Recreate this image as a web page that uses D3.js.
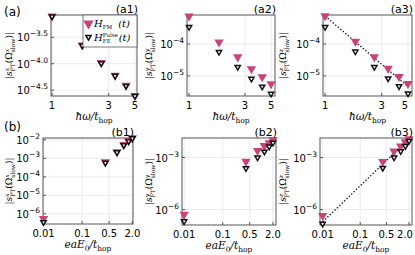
<!DOCTYPE html>
<html>
<head>
<meta charset="utf-8">
<script src="https://cdn.jsdelivr.net/npm/d3@7"></script>
<style>
  body { margin: 0; background: #fff; }
  svg { display: block; }
</style>
</head>
<body>
<svg id="chart" width="415" height="255"></svg>
<script>
// x values
const omega = [1, 1.8, 2.6, 3.4, 4.2, 5.0];
const fieldE0 = [0.01, 0.4, 0.8, 1.2, 1.6, 2.0];

// |s_FT| values, FM drive and pulsed FE drive
const a1FM = [7.9e-4, 2.24e-4, 1.05e-4, 6.0e-5, 3.9e-5, 2.5e-5];
const a1FE = [7.8e-4, 2.2e-4, 1.02e-4, 5.9e-5, 3.8e-5, 2.45e-5];
const a2FM = [7.5e-4, 1.15e-4, 3.9e-5, 1.66e-5, 9.3e-6, 5.6e-6];
const a2FE = [3.4e-4, 5.6e-5, 1.9e-5, 8.1e-6, 4.6e-6, 2.75e-6];
const a3FM = [7.6e-4, 1.2e-4, 3.9e-5, 1.7e-5, 9.5e-6, 5.7e-6];
const a3FE = [3.4e-4, 5.8e-5, 1.9e-5, 8.3e-6, 4.7e-6, 2.8e-6];
const b1FM = [5.5e-7, 6.3e-4, 2.24e-3, 5.4e-3, 8.9e-3, 1.26e-2];
const b1FE = [3.5e-7, 5.8e-4, 2.1e-3, 5.1e-3, 8.4e-3, 1.2e-2];
const b2FM = [5.2e-7, 5.9e-4, 2.5e-3, 4.8e-3, 7.1e-3, 1.05e-2];
const b2FE = [2.1e-7, 2.4e-4, 1.0e-3, 2.2e-3, 4.3e-3, 7.1e-3];
const b3FM = [4.5e-7, 5.8e-4, 2.3e-3, 4.6e-3, 7.9e-3, 1.2e-2];
const b3FE = [1.5e-7, 2.5e-4, 1.0e-3, 2.3e-3, 4.6e-3, 9.1e-3];

// dotted power-law guides
const a3Fit = [[1, 7.5e-4], [5, 4.6e-6]];
const b3Fit = [[0.01, 1.95e-7], [2.0, 1.2e-2]];

// ticks
const omegaTicks = [1, 3, 5];
const omegaTickLabels = ["1", "3", "5"];
const fieldTicks = [0.01, 0.1, 0.5, 2.0];
const fieldTickLabels = ["0.01", "0.1", "0.5", "2.0"];
const a1YExp = ["-3.5", "-4.0", "-4.5"];
const a23YExp = ["-4", "-5"];
const b1YExp = ["-2", "-3", "-4", "-5", "-6"];
const b23YExp = ["-3", "-6"];

const pink = "#c9437a";
const svg = d3.select("#chart");
const sans = "DejaVu Sans";
const serif = "DejaVu Serif";

const panels = [
  { tag: "(a1)", c: "x", x0: 51, x1: 137, y0: 15, y1: 96, xs: omega, fm: a1FM, fe: a1FE,
    xd: [0.98, 5.2], yd: [-4.61, -3.08], xt: omegaTicks, xl: omegaTickLabels, yl: a1YExp,
    xTitle: "omega", labX: 12, legend: true },
  { tag: "(a2)", c: "y", x0: 187, x1: 275, y0: 15, y1: 96, xs: omega, fm: a2FM, fe: a2FE,
    xd: [0.96, 5.4], yd: [-5.63, -3.09], xt: omegaTicks, xl: omegaTickLabels, yl: a23YExp,
    xTitle: "omega", labX: 152 },
  { tag: "(a3)", c: "z", x0: 323, x1: 412, y0: 15, y1: 96, xs: omega, fm: a3FM, fe: a3FE,
    xd: [0.96, 5.4], yd: [-5.63, -3.09], xt: omegaTicks, xl: omegaTickLabels, yl: a23YExp,
    xTitle: "omega", labX: 286, fit: a3Fit },
  { tag: "(b1)", c: "x", x0: 43, x1: 133, y0: 138, y1: 224, xs: fieldE0, fm: b1FM, fe: b1FE,
    xd: [0.0097, 2.08], yd: [-6.55, -1.9], xt: fieldTicks, xl: fieldTickLabels, yl: b1YExp,
    xTitle: "field", labX: 12 },
  { tag: "(b2)", c: "y", x0: 182, x1: 276, y0: 138, y1: 225, xs: fieldE0, fm: b2FM, fe: b2FE,
    xd: [0.0088, 2.4], yd: [-6.89, -1.87], xt: fieldTicks, xl: fieldTickLabels, yl: b23YExp,
    xTitle: "field", labX: 152 },
  { tag: "(b3)", c: "z", x0: 320, x1: 412, y0: 138, y1: 225, xs: fieldE0, fm: b3FM, fe: b3FE,
    xd: [0.0085, 2.4], yd: [-6.89, -1.87], xt: fieldTicks, xl: fieldTickLabels, yl: b23YExp,
    xTitle: "field", labX: 286, fit: b3Fit }
];

const triFM = d3.symbol().type(d3.symbolTriangle).size(38);
const triFE = d3.symbol().type(d3.symbolTriangle).size(12);

function drawPanel(p) {
  const x = d3.scaleLog().domain(p.xd).range([p.x0, p.x1]);
  const y = d3.scaleLog().domain([10 ** p.yd[0], 10 ** p.yd[1]]).range([p.y1, p.y0]);
  const yt = p.yl.map(s => 10 ** (+s));
  const g = svg.append("g");

  // grid
  g.selectAll(".gx").data(p.xt).enter().append("line")
    .attr("x1", d => x(d)).attr("x2", d => x(d)).attr("y1", p.y0).attr("y2", p.y1)
    .attr("stroke", "#e6e6e6").attr("stroke-width", 0.8);
  g.selectAll(".gy").data(yt).enter().append("line")
    .attr("y1", d => y(d)).attr("y2", d => y(d)).attr("x1", p.x0).attr("x2", p.x1)
    .attr("stroke", "#e6e6e6").attr("stroke-width", 0.8);

  // frame
  g.append("rect").attr("x", p.x0).attr("y", p.y0)
    .attr("width", p.x1 - p.x0).attr("height", p.y1 - p.y0)
    .attr("fill", "none").attr("stroke", "#555").attr("stroke-width", 1);

  // tick marks
  g.selectAll(".tx").data(p.xt).enter().append("line")
    .attr("x1", d => x(d)).attr("x2", d => x(d)).attr("y1", p.y1).attr("y2", p.y1 - 3)
    .attr("stroke", "#555");
  g.selectAll(".ty").data(yt).enter().append("line")
    .attr("y1", d => y(d)).attr("y2", d => y(d)).attr("x1", p.x0).attr("x2", p.x0 + 3)
    .attr("stroke", "#555");

  // x tick labels (kept inside the page)
  g.selectAll(".lx").data(p.xt).enter().append("text")
    .attr("x", d => Math.min(x(d), 405)).attr("y", p.y1 + 13)
    .attr("text-anchor", "middle").attr("font-family", sans).attr("font-size", 10)
    .text((d, i) => p.xl[i]);

  // y tick labels
  const ly = g.selectAll(".ly").data(yt).enter().append("text")
    .attr("x", p.x0 - 3).attr("y", d => y(d) + 4)
    .attr("text-anchor", "end").attr("font-family", sans).attr("font-size", 10);
  ly.append("tspan").text("10");
  ly.append("tspan").attr("dy", -5).attr("font-size", 7.5).text((d, i) => p.yl[i].replace("-", "\u2212"));

  // fit line
  if (p.fit) {
    g.append("path").datum(p.fit)
      .attr("d", d3.line().x(d => x(d[0])).y(d => y(d[1])))
      .attr("fill", "none").attr("stroke", "#222").attr("stroke-width", 1.3)
      .attr("stroke-dasharray", "1.5,1.8");
  }

  // markers
  g.selectAll(".fm").data(p.fm).enter().append("path")
    .attr("d", triFM)
    .attr("transform", (d, i) => `translate(${x(p.xs[i])},${y(d)}) rotate(180)`)
    .attr("fill", pink);
  g.selectAll(".fe").data(p.fe).enter().append("path")
    .attr("d", triFE)
    .attr("transform", (d, i) => `translate(${x(p.xs[i])},${y(d)}) rotate(180)`)
    .attr("fill", "#fff").attr("stroke", "#111").attr("stroke-width", 1.5);

  // panel tag
  g.append("text").attr("x", p.x1 + 1).attr("y", p.y0 - 2)
    .attr("text-anchor", "end").attr("font-family", sans).attr("font-size", 11)
    .text(p.tag);

  // x title
  const xt = g.append("text").attr("x", (p.x0 + p.x1) / 2).attr("y", p.y1 + 24)
    .attr("text-anchor", "middle").attr("font-family", serif).attr("font-style", "italic")
    .attr("font-size", 10.5);
  if (p.xTitle === "omega") {
    xt.append("tspan").text("\u0127\u03c9/t");
  } else {
    xt.append("tspan").text("eaE");
    xt.append("tspan").attr("dy", 3).attr("font-size", 7.5).attr("font-style", "normal").text("0");
    xt.append("tspan").attr("dy", -3).text("/t");
  }
  xt.append("tspan").attr("dy", 3).attr("font-size", 7.5).attr("font-style", "normal").text("hop");

  // y title
  const yc = (p.y0 + p.y1) / 2;
  const yt2 = g.append("text").attr("transform", `translate(${p.labX},${yc}) rotate(-90)`)
    .attr("text-anchor", "middle").attr("font-family", serif).attr("font-size", 9);
  yt2.append("tspan").text("|");
  yt2.append("tspan").attr("font-style", "italic").text("s");
  yt2.append("tspan").attr("dy", -3.5).attr("font-size", 6).attr("font-style", "italic").text(p.c);
  yt2.append("tspan").attr("dy", 6).attr("dx", -3.5).attr("font-size", 6).text("FT");
  yt2.append("tspan").attr("dy", -2.5).text("(\u03a9");
  yt2.append("tspan").attr("dy", -3.5).attr("font-size", 6).attr("font-style", "italic").text(p.c);
  yt2.append("tspan").attr("dy", 6).attr("dx", -3.5).attr("font-size", 6).text("slow");
  yt2.append("tspan").attr("dy", -2.5).text(")|");

  if (p.legend) {
    const lg = g.append("g");
    lg.append("rect").attr("x", 83).attr("y", 15).attr("width", 54).attr("height", 32)
      .attr("fill", "#fff").attr("stroke", "#555").attr("stroke-width", 0.8);
    lg.append("path").attr("d", d3.symbol().type(d3.symbolTriangle).size(48))
      .attr("transform", "translate(88.5,23.5) rotate(180)").attr("fill", pink);
    lg.append("path").attr("d", triFE)
      .attr("transform", "translate(88.5,37) rotate(180)")
      .attr("fill", "#fff").attr("stroke", "#111").attr("stroke-width", 1.5);
    const t1 = lg.append("text").attr("x", 94).attr("y", 27)
      .attr("font-family", serif).attr("font-size", 10).attr("font-style", "italic");
    t1.append("tspan").text("H");
    t1.append("tspan").attr("dy", 2).attr("font-size", 5.5).attr("font-style", "normal").text("FM");
    t1.append("tspan").attr("dy", -2).attr("dx", 6).text("(t)");
    const t2 = lg.append("text").attr("x", 94).attr("y", 41)
      .attr("font-family", serif).attr("font-size", 10).attr("font-style", "italic");
    t2.append("tspan").text("H");
    t2.append("tspan").attr("dy", -4.5).attr("font-size", 5.5).attr("font-style", "normal").text("Pulse");
    t2.append("tspan").attr("dy", 6.5).attr("dx", -15).attr("font-size", 5.5).attr("font-style", "normal").text("FE");
    t2.append("tspan").attr("dy", -2).attr("dx", 8).text("(t)");
  }
}

panels.forEach(drawPanel);

// row labels
svg.append("text").attr("x", 4).attr("y", 16).attr("font-family", sans).attr("font-size", 12).text("(a)");
svg.append("text").attr("x", 4).attr("y", 131).attr("font-family", sans).attr("font-size", 12).text("(b)");
</script>
</body>
</html>
